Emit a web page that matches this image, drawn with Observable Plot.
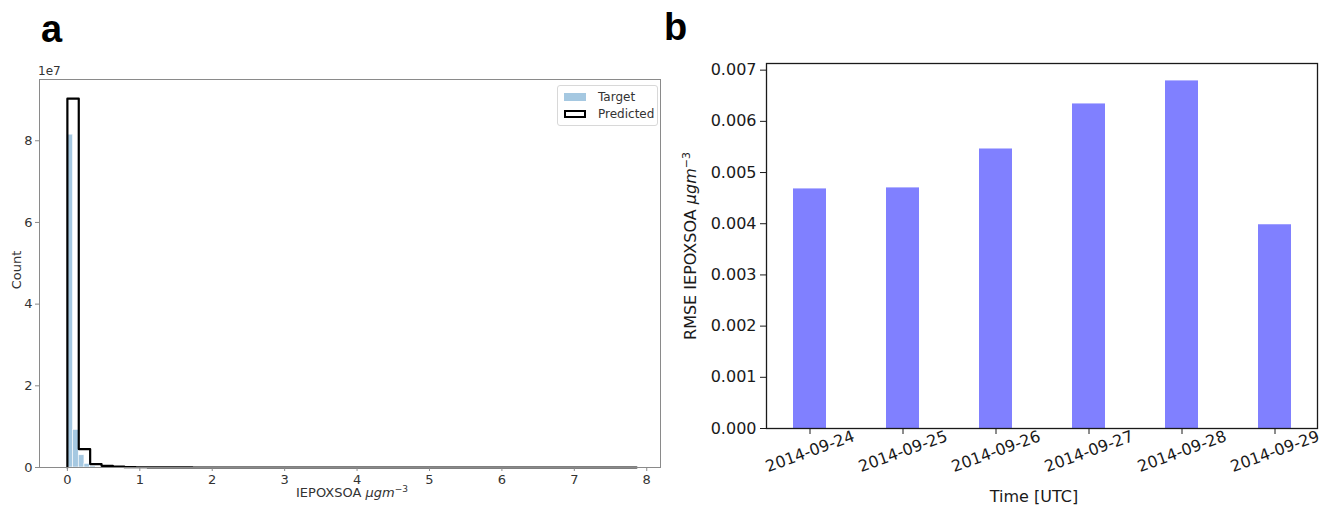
<!DOCTYPE html>
<html>
<head>
<meta charset="utf-8">
<script src="https://cdn.jsdelivr.net/npm/d3@7"></script>
<script src="https://cdn.jsdelivr.net/npm/@observablehq/plot@0.6"></script>
<style>
  html, body { margin: 0; padding: 0; background: #fff; }
  #wrap { position: relative; width: 1323px; height: 509px; overflow: hidden; font-family: "DejaVu Sans", sans-serif; }
  .abs { position: absolute; }
  .panel { position: absolute; top: 0; }
  .plab { position: absolute; font-family: "Liberation Sans", Arial, sans-serif; font-weight: bold; font-size: 38px; line-height: 1; color: #000; }
  .legend { position: absolute; left: 557px; top: 85px; width: 99px; height: 39px; border: 1px solid #d8d8d8; border-radius: 3px; background: #fff; font-size: 12px; color: #333; }
  .legend .row { position: absolute; left: 6px; height: 14px; display: flex; align-items: center; }
  .legend .sw { width: 22px; height: 8px; margin-right: 12px; box-sizing: border-box; }
</style>
</head>
<body>
<div id="wrap">
  <div class="plab" style="left:41px; top:10px;">a</div>
  <div class="plab" style="left:664px; top:8px;">b</div>
  <div id="pa" class="panel" style="left:0px;"></div>
  <div id="pb" class="panel" style="left:680px;"></div>
</div>
<script>
// ---------- Panel a data: histogram counts ----------
const histMax = 7.86;                 // upper end of the binned IEPOXSOA range
const predictedBinCount = 50;
const predictedCounts = [
  9.03e7, 4.5e6, 8.3e5, 4.0e5, 2.0e5, 9.0e4, 6.0e4, 4.0e4, 2.5e4, 1.5e4,
  9.0e3, 6.0e3, 4.0e3, 3.0e3, 2.0e3, 1.5e3, 1.0e3, 8.0e2, 6.0e2, 5.0e2,
  4.0e2, 3.0e2, 2.5e2, 2.0e2, 1.5e2, 1.2e2, 1.0e2, 80, 60, 50,
  40, 30, 25, 20, 15, 12, 10, 8, 6, 5,
  4, 3, 3, 2, 2, 1, 1, 1, 1, 1
];
const targetBinCount = 100;
const targetCounts = [
  8.15e7, 9.2e6, 3.0e6, 9.0e5, 3.0e5, 1.2e5, 5.0e4, 2.5e4, 1.2e4, 6.0e3,
  3.0e3, 1.5e3, 8.0e2, 4.0e2, 2.0e2, 1.0e2, 50, 25, 12, 6
];
const histXTicks = [0, 1, 2, 3, 4, 5, 6, 7, 8];
const histYTicks = [0, 2e7, 4e7, 6e7, 8e7];

// ---------- Panel b data: daily RMSE ----------
const days = ["2014-09-24", "2014-09-25", "2014-09-26", "2014-09-27", "2014-09-28", "2014-09-29"];
const rmse = [0.00468, 0.00470, 0.00546, 0.00634, 0.00679, 0.00398];
const rmseTicks = [0, 0.001, 0.002, 0.003, 0.004, 0.005, 0.006, 0.007];

// ---------- Panel a ----------
const pw = histMax / predictedBinCount;
const tw = histMax / targetBinCount;
const targetBins = targetCounts.map((c, i) => ({x1: i * tw, x2: (i + 1) * tw, y: c}));
const stepPts = [{x: 0, y: 0}];
predictedCounts.forEach((c, i) => stepPts.push({x: i * pw, y: c}));
stepPts.push({x: histMax, y: predictedCounts[predictedCounts.length - 1]});
stepPts.push({x: histMax, y: 0});

const chartA = Plot.plot({
  width: 680, height: 509,
  marginLeft: 39, marginRight: 20, marginTop: 79, marginBottom: 42,
  style: {fontFamily: "DejaVu Sans, sans-serif", fontSize: "13px", color: "#333", background: "transparent"},
  x: {domain: [-0.385, 8.19], label: null},
  y: {domain: [0, 9.5e7], label: null},
  marks: [
    Plot.rectY(targetBins, {x1: "x1", x2: "x2", y: "y", fill: "#a5c8e1", stroke: "#fff", strokeWidth: 0.6}),
    Plot.line(stepPts, {x: "x", y: "y", curve: "step-after", stroke: "#000", strokeWidth: 2.2}),
    Plot.frame({stroke: "#8a8a8a", strokeWidth: 1}),
    Plot.axisX({ticks: histXTicks, tickFormat: d => String(d), tickSize: 4, tickPadding: 3, stroke: "#8a8a8a", fontSize: 13, label: null}),
    Plot.axisY({ticks: histYTicks, tickFormat: d => String(d / 1e7), tickSize: 4, tickPadding: 3, stroke: "#8a8a8a", fontSize: 13, label: null})
  ]
});
document.getElementById("pa").appendChild(chartA);

// ---------- Panel b ----------
const rows = days.map((d, i) => ({day: d, v: rmse[i]}));
const chartB = Plot.plot({
  width: 643, height: 509,
  marginLeft: 86, marginRight: 6, marginTop: 63, marginBottom: 81,
  style: {fontFamily: "DejaVu Sans, sans-serif", fontSize: "16px", color: "#1a1a1a", background: "transparent"},
  x: {type: "band", domain: days, paddingInner: 0.65, paddingOuter: 0.2675, label: null},
  y: {domain: [0, 0.00713], label: null},
  marks: [
    Plot.barY(rows, {x: "day", y: "v", fill: "#8080ff", insetLeft: 0, insetRight: 0}),
    Plot.frame({stroke: "#1a1a1a", strokeWidth: 1.3}),
    Plot.axisY({ticks: rmseTicks, tickFormat: d3.format(".3f"), tickSize: 6, tickPadding: 4, stroke: "#1a1a1a", fontSize: 16, label: null}),
    Plot.axisX({tickFormat: () => "", tickSize: 6, stroke: "#1a1a1a", label: null}),
    Plot.text(days, {x: d => d, text: d => d, frameAnchor: "bottom", dy: 23, rotate: -20, textAnchor: "middle", lineAnchor: "middle", fontSize: 16, fill: "#1a1a1a"})
  ]
});
document.getElementById("pb").appendChild(chartB);
</script>
<script>
const wrap = document.getElementById("wrap");
function addDiv(html, style) {
  const d = document.createElement("div");
  d.className = "abs";
  d.innerHTML = html;
  d.setAttribute("style", style);
  wrap.appendChild(d);
  return d;
}
// panel a
addDiv("1e7", "left:38px; top:65px; font-size:12px; color:#333; line-height:1;");
addDiv("Count", "left:16px; top:270px; font-size:13px; color:#333; line-height:1; transform: translate(-50%,-50%) rotate(-90deg); white-space:nowrap;");
addDiv("IEPOXSOA <i>μgm</i><sup style='font-size:9px;'>−3</sup>", "left:352px; top:492px; font-size:13px; color:#333; line-height:1; transform: translate(-50%,-50%); white-space:nowrap;");
// legend
const lg = document.createElement("div");
lg.className = "legend";
lg.innerHTML =
  "<div class='row' style='top:4px;'><div class='sw' style='background:#a5c8e1;'></div>Target</div>" +
  "<div class='row' style='top:21px;'><div class='sw' style='border:2px solid #000; background:#fff;'></div>Predicted</div>";
wrap.appendChild(lg);
// panel b
addDiv("RMSE IEPOXSOA <i>μgm</i><sup style='font-size:11px;'>−3</sup>", "left:690px; top:246px; font-size:16px; color:#1a1a1a; line-height:1; transform: translate(-50%,-50%) rotate(-90deg); white-space:nowrap;");
addDiv("Time [UTC]", "left:1034px; top:497px; font-size:16px; color:#1a1a1a; line-height:1; transform: translate(-50%,-50%); white-space:nowrap;");
</script>
</body>
</html>
